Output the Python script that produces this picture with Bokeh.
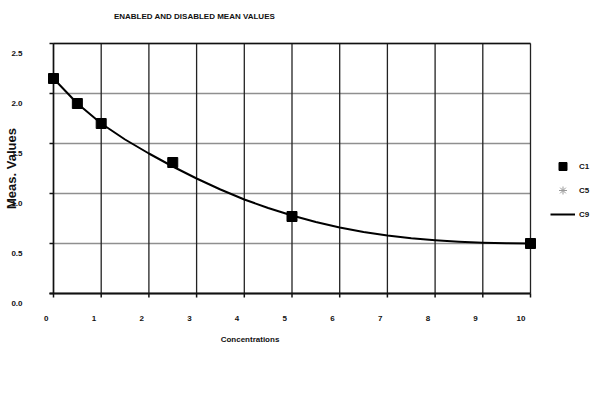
import math
from bokeh.plotting import figure
from bokeh.models import Range1d, Label, Legend, LegendItem
from bokeh.core.properties import value
from bokeh.embed import file_html
from bokeh.resources import INLINE

# ---- data ----
title_text = "ENABLED AND DISABLED MEAN VALUES"
x_title = "Concentrations"
y_title = "Meas. Values"

x_ticks = [0, 1, 2, 3, 4, 5, 6, 7, 8, 9, 10]
x_tick_labels = ["0", "1", "2", "3", "4", "5", "6", "7", "8", "9", "10"]
y_ticks = [0.0, 0.5, 1.0, 1.5, 2.0, 2.5]
y_tick_labels = ["0.0", "0.5", "1.0", "1.5", "2.0", "2.5"]

# C1: measured points (squares)
c1_x = [0.0, 0.5, 1.0, 2.5, 5.0, 10.0]
c1_y = [2.15, 1.90, 1.70, 1.31, 0.77, 0.50]
# C5: asterisks (hidden under the squares)
c5_x = [0.0, 0.5, 1.0, 2.5, 5.0, 10.0]
c5_y = [2.15, 1.90, 1.70, 1.31, 0.77, 0.50]
# C9: fitted curve
c9_x = [0, 0.5, 1, 1.5, 2, 2.5, 3, 3.5, 4, 4.5, 5, 5.5, 6, 6.5, 7, 7.5, 8, 8.5, 9, 9.5, 10]
c9_y = [2.15, 1.90, 1.70, 1.54, 1.40, 1.27, 1.15, 1.04, 0.94, 0.855, 0.78, 0.715,
        0.66, 0.615, 0.58, 0.553, 0.533, 0.518, 0.508, 0.502, 0.50]

# ---- layout (pixels) ----
W, H = 592, 390
PX_LEFT, PX_RIGHT = 53, 530      # where x = first / last tick sits
PX_TOP, PX_BOTTOM = 43, 293      # where y = last / first tick sits
FONT = value("Liberation Sans")
INK = "#111111"

x0, x1 = x_ticks[0], x_ticks[-1]
y0, y1 = y_ticks[0], y_ticks[-1]
sx = (PX_RIGHT - PX_LEFT) / (x1 - x0)   # px per x unit
sy = (PX_BOTTOM - PX_TOP) / (y1 - y0)   # px per y unit


def px_x(px):
    return x0 + (px - PX_LEFT) / sx


def px_y(py):
    return y0 + (PX_BOTTOM - py) / sy


p = figure(width=W, height=H, output_backend="svg", toolbar_location=None,
           x_range=Range1d(px_x(0), px_x(W)), y_range=Range1d(px_y(H), px_y(0)),
           x_axis_location=None, y_axis_location=None,
           min_border=0, min_border_left=0, min_border_right=0,
           min_border_top=0, min_border_bottom=0)
p.background_fill_color = "white"
p.border_fill_color = "white"
p.outline_line_color = None
p.xgrid.visible = False
p.ygrid.visible = False

nx, ny = len(x_ticks), len(y_ticks)
tick_len_x = 4 / sx
tick_len_y = 4 / sy

# horizontal grid lines (grey)
p.segment(x0=[x0] * ny, y0=y_ticks, x1=[x1] * ny, y1=y_ticks,
          line_color="#8f8f8f", line_width=1.6)
# vertical grid lines (dark)
p.segment(x0=x_ticks, y0=[y0] * nx, x1=x_ticks, y1=[y1] * nx,
          line_color="#222222", line_width=1.3)
# top border
p.segment(x0=[x0], y0=[y1], x1=[x1], y1=[y1], line_color=INK, line_width=1.5)
# y axis line and ticks
p.segment(x0=[x0], y0=[y0], x1=[x0], y1=[y1], line_color=INK, line_width=1.5)
p.segment(x0=[x0 - tick_len_x] * ny, y0=y_ticks, x1=[x0] * ny, y1=y_ticks,
          line_color=INK, line_width=1.5)
# x axis line and ticks
p.segment(x0=x_ticks, y0=[y0] * nx, x1=x_ticks, y1=[y0 - tick_len_y] * nx,
          line_color=INK, line_width=1.5)
p.segment(x0=[x0 - tick_len_x], y0=[y0], x1=[x1], y1=[y0], line_color=INK, line_width=2.2)

# tick labels
p.text(x=x_ticks, y=[y0] * nx, text=x_tick_labels, x_offset=-5, y_offset=25,
       text_align="right", text_baseline="middle", text_font=FONT,
       text_font_size="8px", text_font_style="bold", text_color=INK)
p.text(x=[x0] * ny, y=y_ticks, text=y_tick_labels, x_offset=-31, y_offset=10,
       text_align="right", text_baseline="middle", text_font=FONT,
       text_font_size="8px", text_font_style="bold", text_color=INK)

# series
r5 = p.scatter(c5_x, c5_y, marker="asterisk", size=8, line_color="#9a9a9a", line_width=1)
r9 = p.line(c9_x, c9_y, line_color="black", line_width=2, line_join="round")
r1 = p.scatter(c1_x, c1_y, marker="square", size=10, fill_color="black", line_color="black")

# titles
p.add_layout(Label(x=px_x(194), y=px_y(15.5), text=title_text, text_align="center",
                   text_baseline="middle", text_font="Liberation Sans", text_font_size="8px",
                   text_font_style="bold", text_color=INK))
p.add_layout(Label(x=px_x(249.5), y=px_y(338.7), text=x_title, text_align="center",
                   text_baseline="middle", text_font="Liberation Sans", text_font_size="8px",
                   text_font_style="bold", text_color=INK))
p.add_layout(Label(x=px_x(10.5), y=px_y(168), text=y_title, angle=math.pi / 2,
                   text_align="center", text_baseline="middle", text_font="Liberation Sans",
                   text_font_size="13px", text_font_style="bold", text_color=INK))

# legend
legend = Legend(items=[LegendItem(label="C1", renderers=[r1]),
                       LegendItem(label="C5", renderers=[r5]),
                       LegendItem(label="C9", renderers=[r9])],
                location=(550, 166), glyph_width=25, glyph_height=20,
                label_standoff=4, padding=5, spacing=4,
                border_line_color=None, background_fill_alpha=0,
                label_text_font="Liberation Sans", label_text_font_size="8px",
                label_text_font_style="bold",
                label_text_color=INK)
p.add_layout(legend, "center")

open("out.html", "w").write(file_html(p, INLINE))
